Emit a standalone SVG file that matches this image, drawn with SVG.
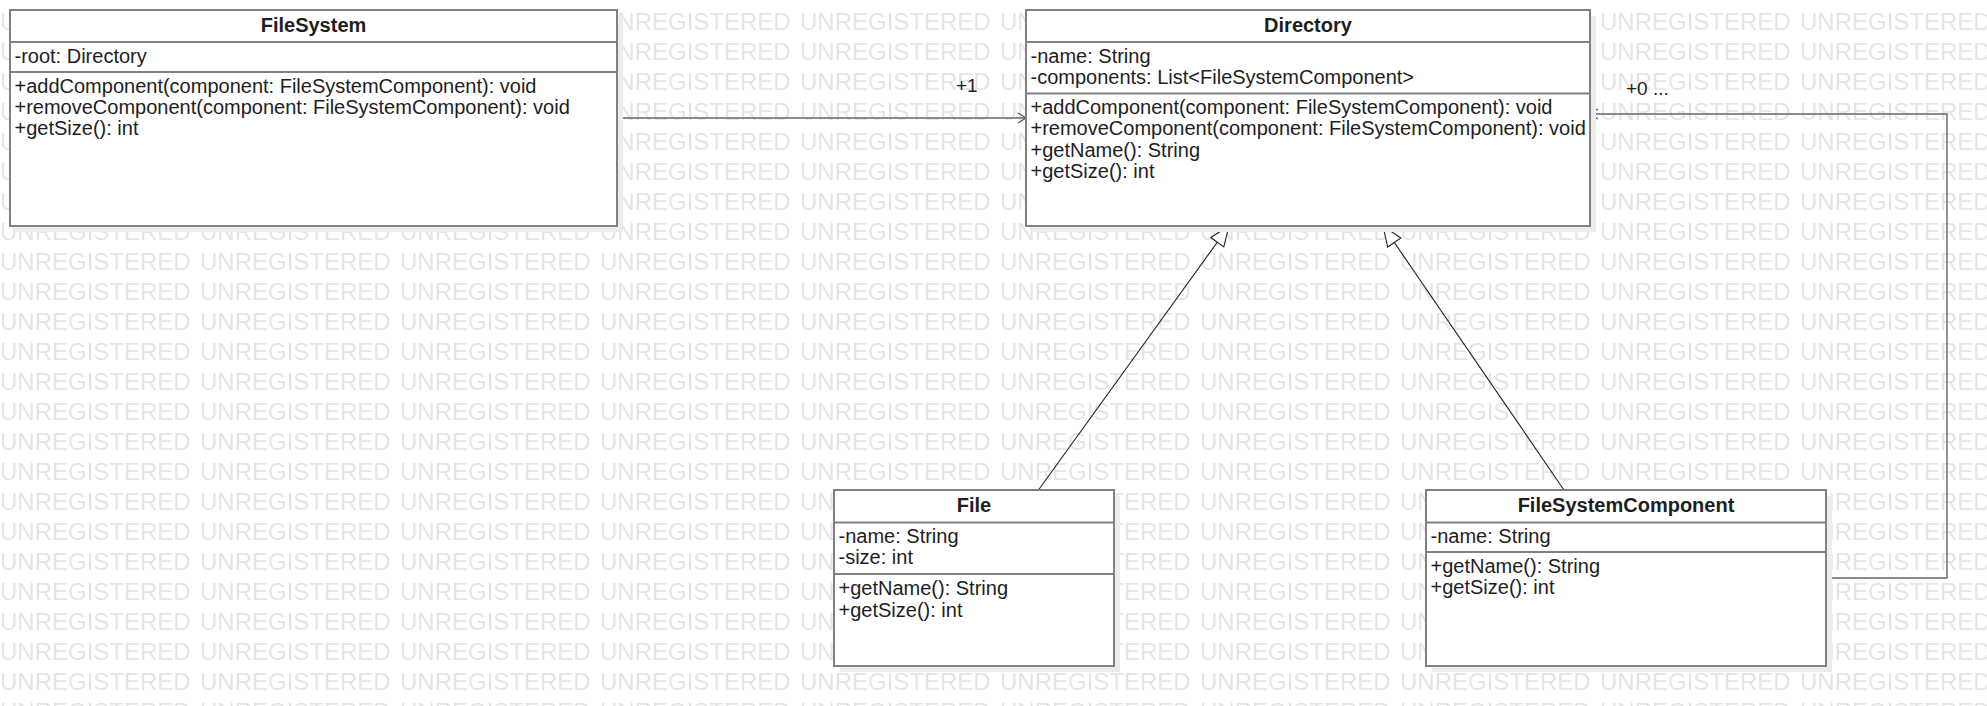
<svg xmlns="http://www.w3.org/2000/svg" width="1987" height="706" viewBox="0 0 1987 706">
<style>
.box{fill:#ffffff;stroke:#808080;stroke-width:2}
.dv{stroke:#808080;stroke-width:2}
.shadow{fill:#ececec}
.t{font-family:"Liberation Sans",Arial,sans-serif;font-size:20px;fill:#1e1e1e}
.title{font-weight:bold;text-anchor:middle}
.lbl{font-family:"Liberation Sans",Arial,sans-serif;font-size:19px;fill:#1e1e1e}
.wm{font-family:"Liberation Sans",Arial,sans-serif;font-size:24px;fill:#e5e5e5}
.assoc{fill:none;stroke:#666666;stroke-width:1.4}
.gen{fill:none;stroke:#222222;stroke-width:1.1}
</style>
<defs>
<pattern id="wmpat" patternUnits="userSpaceOnUse" x="0" y="8" width="200" height="30">
<text class="wm" x="0" y="22">UNREGISTERED</text>
</pattern>
<marker id="open" markerUnits="userSpaceOnUse" viewBox="0 0 12 12" markerWidth="12" markerHeight="12" refX="10" refY="6" orient="auto">
<path d="M2,1 L10,6 L2,11" fill="none" stroke="#555555" stroke-width="1.3"/>
</marker>
<marker id="tri" markerUnits="userSpaceOnUse" viewBox="0 0 22 18" markerWidth="22" markerHeight="18" refX="21" refY="9" orient="auto">
<path d="M1,1 L21,9 L1,17 Z" fill="#ffffff" stroke="#222222" stroke-width="1.1"/>
</marker>
</defs>
<rect x="0" y="0" width="1987" height="706" fill="#ffffff"/>
<rect id="watermark" x="0" y="0" width="1987" height="706" fill="url(#wmpat)"/>

<g id="connectors">
<line class="assoc" x1="618" y1="118" x2="1026" y2="118" marker-end="url(#open)"/>
<text class="lbl" x="956" y="92">+1</text>
<line class="gen" x1="1038.5" y1="490" x2="1229" y2="226" marker-end="url(#tri)"/>
<line class="gen" x1="1564" y1="490" x2="1383" y2="226" marker-end="url(#tri)"/>
<polyline class="assoc" points="1827,578 1947,578 1947,114 1590,114" marker-end="url(#open)"/>
<text class="lbl" x="1626" y="95">+0 ...</text>
</g>

<g id="FileSystem">
<rect class="shadow" x="16" y="16" width="607" height="216"/>
<rect class="box" x="10" y="10" width="607" height="216"/>
<line class="dv" x1="10" y1="42" x2="617" y2="42"/>
<line class="dv" x1="10" y1="72" x2="617" y2="72"/>
<text class="t title" x="313.5" y="32">FileSystem</text>
<text class="t" x="14.5" y="62.5">-root: Directory</text>
<text class="t" x="14.5" y="92.5">+addComponent(component: FileSystemComponent): void</text>
<text class="t" x="14.5" y="114">+removeComponent(component: FileSystemComponent): void</text>
<text class="t" x="14.5" y="135.3">+getSize(): int</text>
</g>

<g id="Directory">
<rect class="shadow" x="1032" y="16" width="564" height="216"/>
<rect class="box" x="1026" y="10" width="564" height="216"/>
<line class="dv" x1="1026" y1="42" x2="1590" y2="42"/>
<line class="dv" x1="1026" y1="93.5" x2="1590" y2="93.5"/>
<text class="t title" x="1308" y="32">Directory</text>
<text class="t" x="1030.5" y="62.5">-name: String</text>
<text class="t" x="1030.5" y="83.5">-components: List&lt;FileSystemComponent&gt;</text>
<text class="t" x="1030.5" y="113.5">+addComponent(component: FileSystemComponent): void</text>
<text class="t" x="1030.5" y="135">+removeComponent(component: FileSystemComponent): void</text>
<text class="t" x="1030.5" y="156.5">+getName(): String</text>
<text class="t" x="1030.5" y="178">+getSize(): int</text>
</g>

<g id="File">
<rect class="shadow" x="840" y="496" width="280" height="176"/>
<rect class="box" x="834" y="490" width="280" height="176"/>
<line class="dv" x1="834" y1="522.5" x2="1114" y2="522.5"/>
<line class="dv" x1="834" y1="574" x2="1114" y2="574"/>
<text class="t title" x="974" y="512">File</text>
<text class="t" x="838.5" y="543">-name: String</text>
<text class="t" x="838.5" y="564">-size: int</text>
<text class="t" x="838.5" y="595">+getName(): String</text>
<text class="t" x="838.5" y="617">+getSize(): int</text>
</g>

<g id="FileSystemComponent">
<rect class="shadow" x="1432" y="496" width="400" height="176"/>
<rect class="box" x="1426" y="490" width="400" height="176"/>
<line class="dv" x1="1426" y1="522.5" x2="1826" y2="522.5"/>
<line class="dv" x1="1426" y1="552" x2="1826" y2="552"/>
<text class="t title" x="1626" y="512">FileSystemComponent</text>
<text class="t" x="1430.5" y="542.5">-name: String</text>
<text class="t" x="1430.5" y="572.5">+getName(): String</text>
<text class="t" x="1430.5" y="594">+getSize(): int</text>
</g>
</svg>
